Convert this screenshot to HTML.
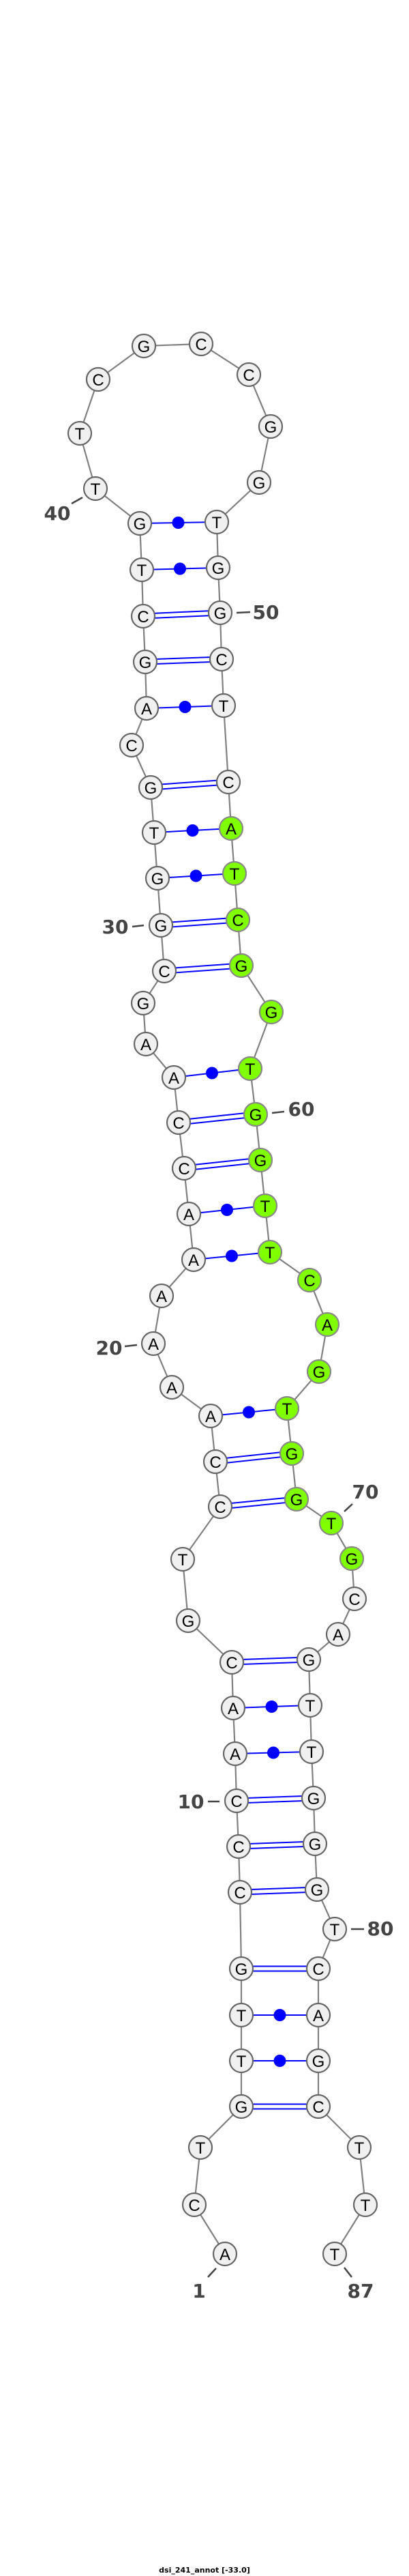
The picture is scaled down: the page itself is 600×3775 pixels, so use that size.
<!DOCTYPE html>
<html><head><meta charset="utf-8"><style>
html,body{margin:0;padding:0;background:#fff;}
svg{display:block;}
.bb{fill:none;stroke:#808080;stroke-width:2.2;}
.p{stroke:#0000ff;stroke-width:2;}
.d{fill:#0000ff;}
.n{fill:#f0f0f0;stroke:#666;stroke-width:2.2;}
.g{fill:#7fff00;stroke:#888;stroke-width:2.2;}
.t{font-family:"Liberation Sans",sans-serif;font-size:24px;text-anchor:middle;fill:#000;}
.l{font-family:"DejaVu Sans","Liberation Sans",sans-serif;font-weight:bold;font-size:28px;fill:#444;text-anchor:middle;}
.k{stroke:#444;stroke-width:2.5;}
</style></head><body>
<svg width="600" height="3775" viewBox="0 0 600 3775" xmlns="http://www.w3.org/2000/svg">
<polyline class="bb" points="330,3303 285,3231 294,3147 354,3087 354,3020 354,2953 354,2885 352,2773 350,2706 347,2639 345,2570 342,2503 340,2436 276,2375 268,2285 323,2208 316,2142 309,2075 252,2033 225,1969 237,1899 284,1846 277,1779 270,1712 262,1645 255,1579 214,1530 210,1470 241,1423 236,1356 231,1287 226,1220 221,1154 193,1092 215,1038 213,970 210,903 208,835 205,767 140,716 117,635 144,556 211,507 295,504 365,549 397,625 380,707 318,765 320,832 323,898 325,966 328,1034 335,1146 339,1214 344,1280 349,1348 354,1415 398,1483 367,1566 375,1633 382,1700 389,1767 396,1835 454,1876 480,1941 468,2010 421,2064 428,2130 435,2197 486,2232 516,2284 520,2343 496,2395 453,2432 455,2499 457,2567 460,2635 462,2702 465,2769 491,2827 467,2885 467,2953 467,3020 467,3087 527,3147 536,3231 491,3303"/>
<!-- double pairs -->
<g class="p">
<line x1="354" y1="3083.5" x2="467" y2="3083.5"/><line x1="354" y1="3090.5" x2="467" y2="3090.5"/>
<line x1="354" y1="2881.5" x2="467" y2="2881.5"/><line x1="354" y1="2888.5" x2="467" y2="2888.5"/>
<line x1="352" y1="2769.5" x2="465" y2="2765.5"/><line x1="352" y1="2776.5" x2="465" y2="2772.5"/>
<line x1="350" y1="2702.5" x2="462" y2="2698.5"/><line x1="350" y1="2709.5" x2="462" y2="2705.5"/>
<line x1="347" y1="2635.5" x2="460" y2="2631.5"/><line x1="347" y1="2642.5" x2="460" y2="2638.5"/>
<line x1="340" y1="2432.5" x2="453" y2="2428.5"/><line x1="340" y1="2439.5" x2="453" y2="2435.5"/>
<line x1="323" y1="2204.5" x2="435" y2="2193.5"/><line x1="323" y1="2211.5" x2="435" y2="2200.5"/>
<line x1="316" y1="2138.5" x2="428" y2="2126.5"/><line x1="316" y1="2145.5" x2="428" y2="2133.5"/>
<line x1="270" y1="1708.5" x2="382" y2="1696.5"/><line x1="270" y1="1715.5" x2="382" y2="1703.5"/>
<line x1="262" y1="1641.5" x2="375" y2="1629.5"/><line x1="262" y1="1648.5" x2="375" y2="1636.5"/>
<line x1="241" y1="1419.5" x2="354" y2="1411.5"/><line x1="241" y1="1426.5" x2="354" y2="1418.5"/>
<line x1="236" y1="1352.5" x2="349" y2="1344.5"/><line x1="236" y1="1359.5" x2="349" y2="1351.5"/>
<line x1="221" y1="1150.5" x2="335" y2="1142.5"/><line x1="221" y1="1157.5" x2="335" y2="1149.5"/>
<line x1="213" y1="966.5" x2="325" y2="962.5"/><line x1="213" y1="973.5" x2="325" y2="969.5"/>
<line x1="210" y1="899.5" x2="323" y2="894.5"/><line x1="210" y1="906.5" x2="323" y2="901.5"/>
<!-- single dot pairs -->
<line x1="354" y1="3020" x2="467" y2="3020"/>
<line x1="354" y1="2953" x2="467" y2="2953"/>
<line x1="345" y1="2570" x2="457" y2="2567"/>
<line x1="342" y1="2503" x2="455" y2="2499"/>
<line x1="309" y1="2075" x2="421" y2="2064"/>
<line x1="284" y1="1846" x2="396" y2="1835"/>
<line x1="277" y1="1779" x2="389" y2="1767"/>
<line x1="255" y1="1579" x2="367" y2="1566"/>
<line x1="231" y1="1287" x2="344" y2="1280"/>
<line x1="226" y1="1220" x2="339" y2="1214"/>
<line x1="215" y1="1038" x2="328" y2="1034"/>
<line x1="208" y1="835" x2="320" y2="832"/>
<line x1="205" y1="767" x2="318" y2="765"/>
</g>
<g class="d">
<circle cx="410.5" cy="3020" r="9"/><circle cx="410.5" cy="2953" r="9"/>
<circle cx="401" cy="2568.5" r="9"/><circle cx="398.5" cy="2501" r="9"/>
<circle cx="365" cy="2069.5" r="9"/><circle cx="340" cy="1840.5" r="9"/>
<circle cx="333" cy="1773" r="9"/><circle cx="311" cy="1572.5" r="9"/>
<circle cx="287.5" cy="1283.5" r="9"/><circle cx="282.5" cy="1217" r="9"/>
<circle cx="271.5" cy="1036" r="9"/><circle cx="264" cy="833.5" r="9"/>
<circle cx="261.5" cy="766" r="9"/>
</g>
<!-- label ticks -->
<g class="k">
<line x1="305" y1="3337" x2="317" y2="3324"/>
<line x1="505" y1="3323" x2="516" y2="3337"/>
<line x1="305" y1="2640" x2="322" y2="2640"/>
<line x1="515" y1="2827" x2="534" y2="2827"/>
<line x1="505" y1="2215" x2="517" y2="2204"/>
<line x1="183" y1="1973" x2="201" y2="1971"/>
<line x1="399" y1="1631" x2="417" y2="1629"/>
<line x1="194" y1="1358" x2="211" y2="1356"/>
<line x1="347" y1="898" x2="367" y2="897"/>
<line x1="105" y1="738" x2="121" y2="729"/>
</g>
<g class="l">
<text x="292" y="3367">1</text>
<text x="529" y="3367">87</text>
<text x="280" y="2650">10</text>
<text x="558" y="2836">80</text>
<text x="536" y="2196">70</text>
<text x="160" y="1985">20</text>
<text x="442" y="1635">60</text>
<text x="169" y="1368">30</text>
<text x="390" y="907">50</text>
<text x="84" y="762">40</text>
</g>
<!-- nodes -->
<g>
<circle class="n" cx="330" cy="3303" r="17"/><circle class="n" cx="285" cy="3231" r="17"/><circle class="n" cx="294" cy="3147" r="17"/><circle class="n" cx="354" cy="3087" r="17"/><circle class="n" cx="354" cy="3020" r="17"/><circle class="n" cx="354" cy="2953" r="17"/><circle class="n" cx="354" cy="2885" r="17"/><circle class="n" cx="352" cy="2773" r="17"/><circle class="n" cx="350" cy="2706" r="17"/><circle class="n" cx="347" cy="2639" r="17"/><circle class="n" cx="345" cy="2570" r="17"/><circle class="n" cx="342" cy="2503" r="17"/><circle class="n" cx="340" cy="2436" r="17"/><circle class="n" cx="276" cy="2375" r="17"/><circle class="n" cx="268" cy="2285" r="17"/><circle class="n" cx="323" cy="2208" r="17"/><circle class="n" cx="316" cy="2142" r="17"/><circle class="n" cx="309" cy="2075" r="17"/><circle class="n" cx="252" cy="2033" r="17"/><circle class="n" cx="225" cy="1969" r="17"/><circle class="n" cx="237" cy="1899" r="17"/><circle class="n" cx="284" cy="1846" r="17"/><circle class="n" cx="277" cy="1779" r="17"/><circle class="n" cx="270" cy="1712" r="17"/><circle class="n" cx="262" cy="1645" r="17"/><circle class="n" cx="255" cy="1579" r="17"/><circle class="n" cx="214" cy="1530" r="17"/><circle class="n" cx="210" cy="1470" r="17"/><circle class="n" cx="241" cy="1423" r="17"/><circle class="n" cx="236" cy="1356" r="17"/><circle class="n" cx="231" cy="1287" r="17"/><circle class="n" cx="226" cy="1220" r="17"/><circle class="n" cx="221" cy="1154" r="17"/><circle class="n" cx="193" cy="1092" r="17"/><circle class="n" cx="215" cy="1038" r="17"/><circle class="n" cx="213" cy="970" r="17"/><circle class="n" cx="210" cy="903" r="17"/><circle class="n" cx="208" cy="835" r="17"/><circle class="n" cx="205" cy="767" r="17"/><circle class="n" cx="140" cy="716" r="17"/><circle class="n" cx="117" cy="635" r="17"/><circle class="n" cx="144" cy="556" r="17"/><circle class="n" cx="211" cy="507" r="17"/><circle class="n" cx="295" cy="504" r="17"/><circle class="n" cx="365" cy="549" r="17"/><circle class="n" cx="397" cy="625" r="17"/><circle class="n" cx="380" cy="707" r="17"/><circle class="n" cx="318" cy="765" r="17"/><circle class="n" cx="320" cy="832" r="17"/><circle class="n" cx="323" cy="898" r="17"/><circle class="n" cx="325" cy="966" r="17"/><circle class="n" cx="328" cy="1034" r="17"/><circle class="n" cx="335" cy="1146" r="17"/>
<circle class="g" cx="339" cy="1214" r="17"/><circle class="g" cx="344" cy="1280" r="17"/><circle class="g" cx="349" cy="1348" r="17"/><circle class="g" cx="354" cy="1415" r="17"/><circle class="g" cx="398" cy="1483" r="17"/><circle class="g" cx="367" cy="1566" r="17"/><circle class="g" cx="375" cy="1633" r="17"/><circle class="g" cx="382" cy="1700" r="17"/><circle class="g" cx="389" cy="1767" r="17"/><circle class="g" cx="396" cy="1835" r="17"/><circle class="g" cx="454" cy="1876" r="17"/><circle class="g" cx="480" cy="1941" r="17"/><circle class="g" cx="468" cy="2010" r="17"/><circle class="g" cx="421" cy="2064" r="17"/><circle class="g" cx="428" cy="2130" r="17"/><circle class="g" cx="435" cy="2197" r="17"/><circle class="g" cx="486" cy="2232" r="17"/><circle class="g" cx="516" cy="2284" r="17"/>
<circle class="n" cx="520" cy="2343" r="17"/><circle class="n" cx="496" cy="2395" r="17"/><circle class="n" cx="453" cy="2432" r="17"/><circle class="n" cx="455" cy="2499" r="17"/><circle class="n" cx="457" cy="2567" r="17"/><circle class="n" cx="460" cy="2635" r="17"/><circle class="n" cx="462" cy="2702" r="17"/><circle class="n" cx="465" cy="2769" r="17"/><circle class="n" cx="491" cy="2827" r="17"/><circle class="n" cx="467" cy="2885" r="17"/><circle class="n" cx="467" cy="2953" r="17"/><circle class="n" cx="467" cy="3020" r="17"/><circle class="n" cx="467" cy="3087" r="17"/><circle class="n" cx="527" cy="3147" r="17"/><circle class="n" cx="536" cy="3231" r="17"/><circle class="n" cx="491" cy="3303" r="17"/>
</g>
<g class="t">
<text x="330" y="3312">A</text><text x="285" y="3240">C</text><text x="294" y="3156">T</text><text x="354" y="3096">G</text><text x="354" y="3029">T</text><text x="354" y="2962">T</text><text x="354" y="2894">G</text><text x="352" y="2782">C</text><text x="350" y="2715">C</text><text x="347" y="2648">C</text><text x="345" y="2579">A</text><text x="342" y="2512">A</text><text x="340" y="2445">C</text><text x="276" y="2384">G</text><text x="268" y="2294">T</text><text x="323" y="2217">C</text><text x="316" y="2151">C</text><text x="309" y="2084">A</text><text x="252" y="2042">A</text><text x="225" y="1978">A</text><text x="237" y="1908">A</text><text x="284" y="1855">A</text><text x="277" y="1788">A</text><text x="270" y="1721">C</text><text x="262" y="1654">C</text><text x="255" y="1588">A</text><text x="214" y="1539">A</text><text x="210" y="1479">G</text><text x="241" y="1432">C</text><text x="236" y="1365">G</text><text x="231" y="1296">G</text><text x="226" y="1229">T</text><text x="221" y="1163">G</text><text x="193" y="1101">C</text><text x="215" y="1047">A</text><text x="213" y="979">G</text><text x="210" y="912">C</text><text x="208" y="844">T</text><text x="205" y="776">G</text><text x="140" y="725">T</text><text x="117" y="644">T</text><text x="144" y="565">C</text><text x="211" y="516">G</text><text x="295" y="513">C</text><text x="365" y="558">C</text><text x="397" y="634">G</text><text x="380" y="716">G</text><text x="318" y="774">T</text><text x="320" y="841">G</text><text x="323" y="907">G</text><text x="325" y="975">C</text><text x="328" y="1043">T</text><text x="335" y="1155">C</text><text x="339" y="1223">A</text><text x="344" y="1289">T</text><text x="349" y="1357">C</text><text x="354" y="1424">G</text><text x="398" y="1492">G</text><text x="367" y="1575">T</text><text x="375" y="1642">G</text><text x="382" y="1709">G</text><text x="389" y="1776">T</text><text x="396" y="1844">T</text><text x="454" y="1885">C</text><text x="480" y="1950">A</text><text x="468" y="2019">G</text><text x="421" y="2073">T</text><text x="428" y="2139">G</text><text x="435" y="2206">G</text><text x="486" y="2241">T</text><text x="516" y="2293">G</text><text x="520" y="2352">C</text><text x="496" y="2404">A</text><text x="453" y="2441">G</text><text x="455" y="2508">T</text><text x="457" y="2576">T</text><text x="460" y="2644">G</text><text x="462" y="2711">G</text><text x="465" y="2778">G</text><text x="491" y="2836">T</text><text x="467" y="2894">C</text><text x="467" y="2962">A</text><text x="467" y="3029">G</text><text x="467" y="3096">C</text><text x="527" y="3156">T</text><text x="536" y="3240">T</text><text x="491" y="3312">T</text>
</g>
<text x="300" y="3770" style="font-family:'DejaVu Sans','Liberation Sans',sans-serif;font-weight:bold;font-size:11px;fill:#000;text-anchor:middle;">dsi_241_annot [-33.0]</text>
</svg>
</body></html>
